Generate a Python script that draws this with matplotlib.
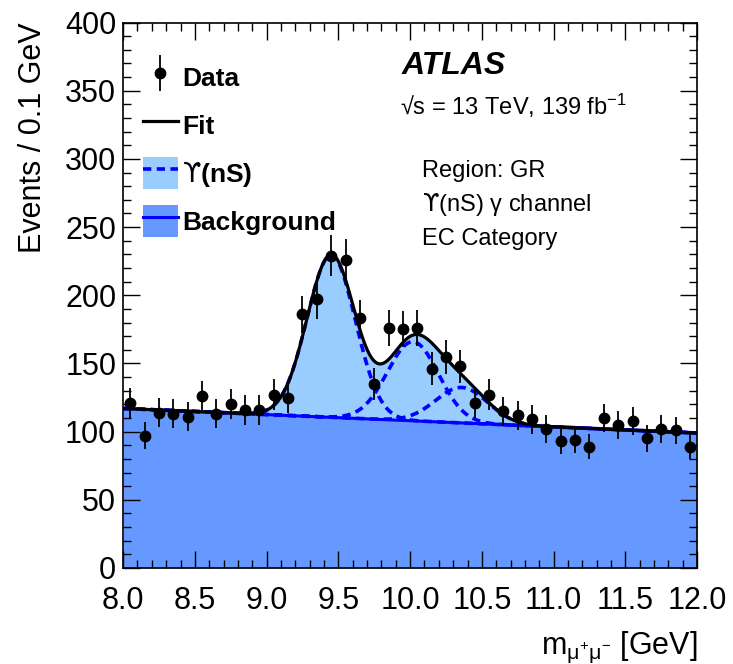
import numpy as np
import matplotlib
matplotlib.use("Agg")
import matplotlib.pyplot as plt
from matplotlib.lines import Line2D
from matplotlib.patches import Patch
from matplotlib.ticker import MultipleLocator

plt.rcParams['font.family'] = ['Liberation Sans', 'DejaVu Sans']
plt.rcParams['mathtext.fontset'] = 'custom'
plt.rcParams['mathtext.rm'] = 'Liberation Sans'
plt.rcParams['mathtext.it'] = 'Liberation Sans:italic'
plt.rcParams['mathtext.bf'] = 'Liberation Sans:bold'
plt.rcParams['mathtext.sf'] = 'DejaVu Sans'

# data: events per 0.1 GeV bin
bin_centers = np.arange(8.05, 12.0, 0.1)
counts = [121, 97, 114, 113, 111, 126, 113, 120, 116, 116,
          127, 125, 186, 197, 229, 226, 183, 135, 176, 175,
          176, 146, 155, 148, 121, 127, 115, 112, 109, 102,
          93, 94, 89, 110, 105, 108, 95, 102, 101, 89]

# fit: linear background + three upsilon peaks
bkg_at_8 = 117.0
bkg_slope = -4.5
peak_means = [9.45, 10.02, 10.36]
peak_amps = [119.0, 58.0, 26.0]
peak_sigmas = [0.168, 0.178, 0.182]

c_bkg = '#6699ff'
c_sig = '#99ccff'
ups = r'$\mathsf{ϒ}$'
dash = (0, (2.3, 1.5))

x = np.linspace(8.0, 12.0, 800)
bkg = bkg_at_8 + bkg_slope * (x - 8.0)
comps = [a * np.exp(-0.5 * ((x - m) / s) ** 2)
         for m, a, s in zip(peak_means, peak_amps, peak_sigmas)]
total = bkg + sum(comps)

fig = plt.figure(figsize=(7.33, 6.64), dpi=100)
ax = fig.add_axes([0.168, 0.1446, 0.783, 0.8214])

ax.fill_between(x, 0, bkg, color=c_bkg, lw=0, zorder=1)
ax.fill_between(x, bkg, total, color=c_sig, lw=0, zorder=1)
for c in comps:
    ax.plot(x, bkg + c, color='#0000ff', ls=dash, lw=2.6, zorder=2)
ax.plot(x, bkg, color='#0000ff', lw=2.2, zorder=3)
ax.plot(x, total, color='black', lw=2.3, zorder=4)
ax.errorbar(bin_centers, counts, yerr=np.sqrt(counts), fmt='o', color='black',
            ms=7.5, elinewidth=1.3, capsize=0, zorder=5)

ax.set_xlim(8.0, 12.0)
ax.set_ylim(0, 400)
ax.xaxis.set_major_locator(MultipleLocator(0.5))
ax.xaxis.set_minor_locator(MultipleLocator(0.1))
ax.yaxis.set_major_locator(MultipleLocator(50))
ax.yaxis.set_minor_locator(MultipleLocator(10))
ax.xaxis.set_major_formatter(matplotlib.ticker.FormatStrFormatter('%.1f'))
ax.tick_params(which='both', direction='in', top=True, right=True, labelsize=22)
ax.tick_params(which='major', length=12, width=1)
ax.tick_params(which='minor', length=6, width=1)
ax.tick_params(axis='x', pad=13)
ax.tick_params(axis='y', pad=5)
for sp in ax.spines.values():
    sp.set_linewidth(1.2)
    sp.set_zorder(10)

ax.set_ylabel('Events / 0.1 GeV', fontsize=22, loc='top', labelpad=12)
ax.set_xlabel('m$_{\\mathregular{μ^{+}μ^{-}}}$ [GeV]', fontsize=22, loc='right', labelpad=10)

h_data = Line2D([], [], marker='o', color='black', ms=7.5, ls='none')
h_data_err = Line2D([], [], marker='|', color='black', ms=26, mew=1.3, ls='none')
h_fit = Line2D([], [], color='black', lw=2.3)
h_sig = (Patch(facecolor=c_sig, edgecolor='none'),
         Line2D([], [], color='#0000ff', ls=dash, lw=2.6))
h_bkg = (Patch(facecolor=c_bkg, edgecolor='none'),
         Line2D([], [], color='#0000ff', lw=2.2))
leg = ax.legend([(h_data_err, h_data), h_fit, h_sig, h_bkg],
                ['Data', 'Fit', ups + '(nS)', 'Background'],
                loc='upper left', bbox_to_anchor=(0.035, 0.93), frameon=False,
                prop={'size': 19, 'weight': 'bold'}, handlelength=1.3,
                handleheight=1.5, labelspacing=0.6, handletextpad=0.18,
                borderpad=0, borderaxespad=0)

ax.text(0.485, 0.921, 'ATLAS', transform=ax.transAxes, fontsize=23,
        fontweight='bold', fontstyle='italic', va='center')
ax.text(0.482, 0.848, '√s = 13 TeV, 139 fb$^{\\mathregular{-1}}$', transform=ax.transAxes,
        fontsize=17, va='center')
ax.text(0.52, 0.727, 'Region: GR', transform=ax.transAxes, fontsize=17, va='center')
ax.text(0.52, 0.666, ups + '(nS) γ channel', transform=ax.transAxes, fontsize=17, va='center')
ax.text(0.52, 0.603, 'EC Category', transform=ax.transAxes, fontsize=17, va='center')

fig.savefig('out.png', dpi=100)
